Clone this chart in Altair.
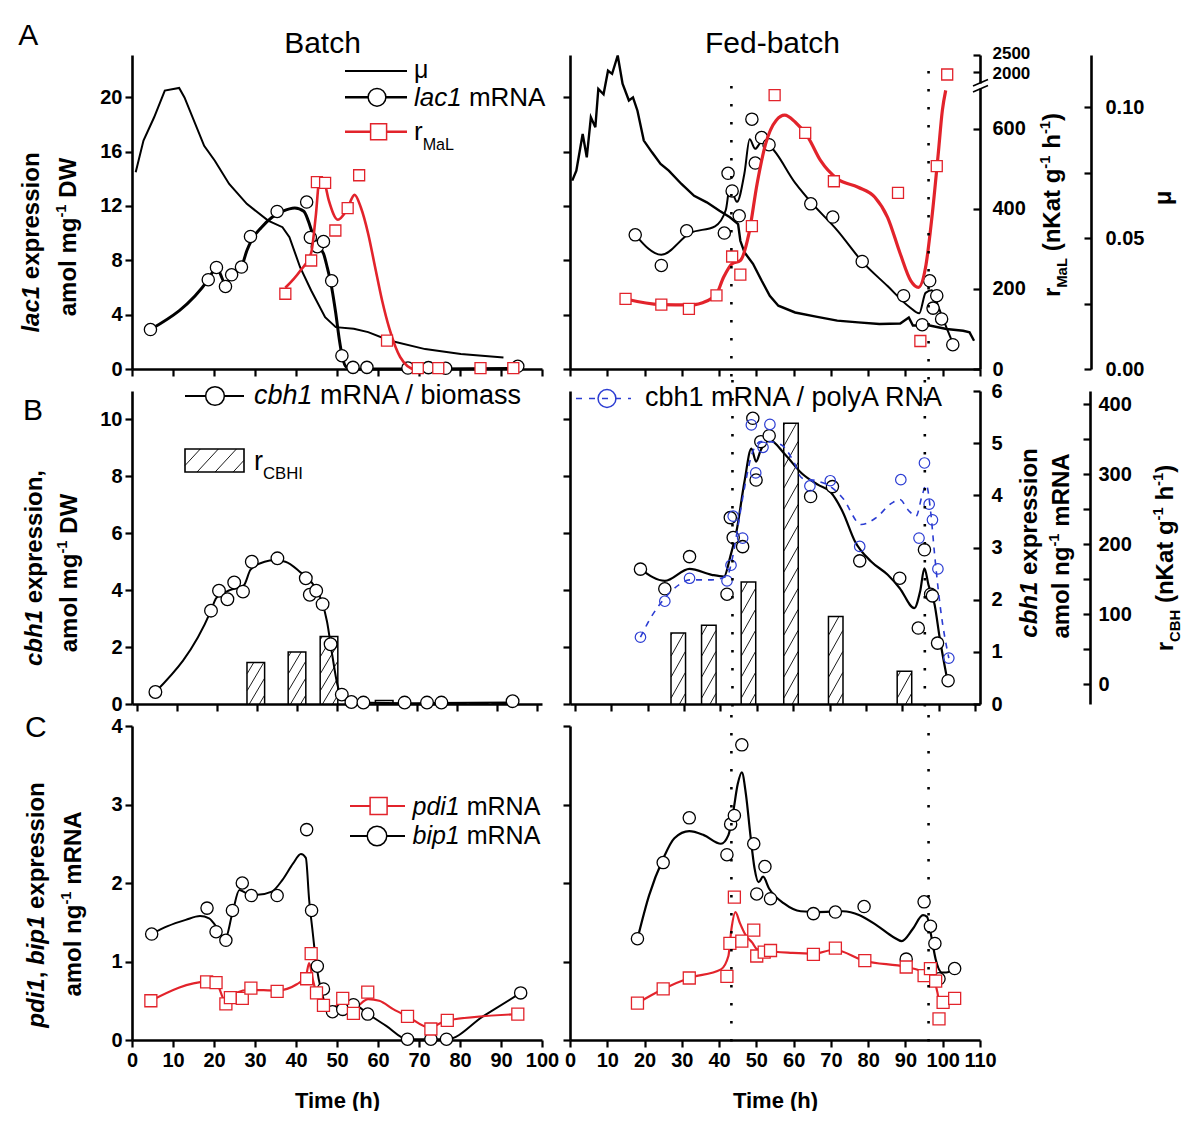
import altair as alt
import pandas as pd

FONT = "Liberation Sans"
RED = "#e2232b"
BLUE = "#2b3cd2"

# ===================== DATA =====================
# ---- A, Batch: lac1 mRNA (amol/mg DW), mu (1/h), r_MaL (nKat/g/h)
A_B_LAC_T = [4.5, 18.6, 20.6, 22.8, 24.3, 26.7, 28.9, 35.4, 42.6, 43.5, 45.2, 46.7, 48.7, 51.2, 53.9, 57.3, 67.3, 72.3, 76.5, 94.1]
A_B_LAC_V = [2.9, 6.57, 7.47, 6.07, 6.93, 7.5, 9.75, 11.59, 12.28, 9.68, 9.0, 9.38, 6.49, 0.98, 0.12, 0.12, 0.07, 0.1, 0.05, 0.2]
A_B_LACFIT_T = [4.5, 18.6, 20.6, 22.8, 24.5, 26.7, 28.0, 29.3, 31.5, 34.1, 36.7, 39.7, 41.9, 43.0, 44.1, 45.4, 46.7, 47.6, 48.7, 49.7, 50.6, 51.3, 52.2, 54.1, 70.0, 94.1]
A_B_LACFIT_V = [2.9, 6.57, 7.47, 6.3, 6.9, 7.5, 8.7, 9.55, 10.4, 11.15, 11.6, 11.85, 11.6, 10.9, 9.9, 9.0, 8.5, 7.5, 6.0, 4.1, 2.1, 0.9, 0.17, 0.0, 0.0, 0.05]
A_B_MU_T = [0.9, 2.8, 5.4, 8.0, 11.5, 12.8, 17.6, 20.2, 23.7, 28.0, 33.2, 36.7, 38.4, 41.0, 43.7, 47.1, 49.7, 54.1, 57.6, 62.8, 71.5, 80.2, 90.6]
A_B_MU_V = [0.0752, 0.0873, 0.0962, 0.1064, 0.1074, 0.1038, 0.0853, 0.0796, 0.0707, 0.0631, 0.0567, 0.0542, 0.0504, 0.0389, 0.030, 0.0198, 0.016, 0.0154, 0.0141, 0.0109, 0.0076, 0.0057, 0.0044]
A_B_R_T = [37.4, 43.7, 45.1, 47.1, 49.6, 52.6, 55.4, 62.2, 69.7, 74.7, 85.0, 93.0]
A_B_R_V = [188, 271, 467, 465, 346, 402, 484, 71, 2, 2, 2, 2]
A_B_RFIT_T = [37.4, 41.0, 43.7, 44.8, 45.8, 46.8, 48.0, 50.2, 52.3, 54.3, 55.8, 57.6, 59.3, 61.0, 62.8, 65.4, 68.9, 70.5]
A_B_RFIT_V = [203, 245, 290, 380, 478, 470, 421, 373, 396, 435, 404, 338, 254, 171, 100, 30, 0, 0]

# ---- A, Fed-batch
A_F_LAC_T = [17.5, 24.5, 31.3, 41.4, 42.4, 43.5, 45.4, 48.8, 49.7, 51.4, 53.4, 64.6, 70.5, 78.4, 89.5, 94.5, 96.5, 97.4, 98.4, 99.7, 102.7]
A_F_LAC_V = [9.87, 7.62, 10.17, 10.0, 14.4, 13.1, 11.27, 18.38, 15.15, 17.03, 16.5, 12.15, 11.18, 7.91, 5.39, 3.26, 6.49, 4.48, 5.39, 3.68, 1.79]
A_F_LACFIT_T = [17.5, 24.5, 32.2, 38.9, 41.8, 42.9, 44.8, 46.8, 48.2, 49.7, 51.4, 53.6, 60.4, 64.9, 71.7, 78.4, 85.2, 90.9, 93.7, 95.4, 97.1, 98.8, 100.5, 102.7]
A_F_LACFIT_V = [9.87, 8.4, 10.0, 10.5, 11.7, 13.4, 12.3, 14.4, 16.9, 16.2, 16.7, 16.4, 13.7, 12.2, 10.2, 7.9, 6.1, 4.6, 4.1, 5.6, 5.8, 4.6, 3.4, 1.9]
A_F_MU_T = [0.6, 1.7, 3.4, 4.5, 5.6, 6.8, 7.6, 9.0, 10.2, 11.3, 12.8, 14.1, 15.8, 16.9, 18.1, 19.8, 22.0, 24.3, 26.5, 29.9, 33.3, 36.7, 40.1, 42.9, 45.1, 45.7, 46.8, 49.1, 51.4, 53.6, 55.9, 60.4, 66.0, 71.7, 77.3, 83.0, 88.6, 90.9, 92.0, 96.5, 101.0, 105.5, 107.2, 108.4]
A_F_MU_V = [0.072, 0.0758, 0.0898, 0.0809, 0.0962, 0.0924, 0.107, 0.105, 0.114, 0.1128, 0.1198, 0.109, 0.1026, 0.1038, 0.0987, 0.0873, 0.0828, 0.0784, 0.0758, 0.0707, 0.0662, 0.0637, 0.0605, 0.058, 0.0554, 0.049, 0.0446, 0.0402, 0.0338, 0.028, 0.0242, 0.0216, 0.020, 0.0185, 0.0178, 0.0172, 0.0174, 0.0197, 0.0166, 0.0166, 0.0153, 0.0146, 0.014, 0.0108]
A_F_R_T = [14.9, 24.5, 31.9, 39.3, 43.5, 45.7, 48.8, 54.9, 63.1, 70.8, 88.0, 94.0, 98.4, 101.2]
A_F_R_V = [175, 161, 150, 184, 281, 236, 357, 684, 590, 469, 440, 70, 507, 1940]
A_F_RFIT_T = [14.9, 24.3, 32.2, 36.7, 39.3, 41.2, 43.5, 45.7, 48.0, 50.2, 52.5, 55.3, 57.6, 60.4, 63.8, 67.2, 71.7, 77.3, 81.8, 85.2, 88.6, 91.4, 93.5, 95.4, 97.1, 98.8, 99.9, 100.8]
A_F_RFIT_V = [175, 161, 160, 170, 187, 229, 263, 271, 338, 463, 563, 621, 634, 617, 580, 521, 475, 454, 429, 379, 288, 221, 204, 254, 379, 538, 646, 696]

# ---- B, Batch: cbh1 mRNA / biomass, r_CBHI bars
B_B_CBH_T = [4.6, 18.5, 20.5, 22.6, 24.3, 26.5, 28.7, 35.1, 42.2, 43.2, 44.8, 46.4, 48.4, 51.2, 53.6, 56.6, 66.9, 72.5, 76.1, 93.9]
B_B_CBH_V = [0.42, 3.28, 3.98, 3.68, 4.27, 3.95, 5.0, 5.12, 4.42, 3.84, 3.98, 3.51, 2.1, 0.33, 0.07, 0.05, 0.05, 0.05, 0.05, 0.1]
B_B_CBHFIT_T = [4.6, 18.5, 19.8, 23.2, 26.7, 28.4, 31.9, 34.5, 37.1, 40.6, 44.1, 46.2, 47.5, 48.8, 50.1, 51.4, 53.6, 70.0, 93.9]
B_B_CBHFIT_V = [0.42, 3.28, 3.72, 4.0, 4.17, 4.72, 5.0, 5.05, 5.0, 4.66, 4.19, 3.6, 2.9, 1.73, 0.68, 0.21, 0.05, 0.03, 0.05]
B_B_BAR_T = [29.7, 40.0, 48.0, 61.8, 80.0, 85.5, 91.0]
B_B_BAR_V = [1.46, 1.83, 2.37, 0.12, 0.04, 0.04, 0.04]

# ---- B, Fed-batch
B_F_BAR_T = [28.4, 36.8, 47.7, 59.4, 71.7, 90.6]
B_F_BAR_V = [73.3, 84.3, 146, 373, 97, 18.6]
B_F_CBH_T = [18.0, 24.7, 31.5, 41.8, 42.7, 43.5, 46.1, 48.9, 49.8, 51.1, 53.4, 64.8, 70.8, 78.3, 89.3, 94.4, 96.1, 97.8, 98.3, 99.7, 102.6]
B_F_CBH_V = [4.74, 4.05, 5.18, 3.86, 6.55, 5.85, 5.53, 10.04, 7.87, 9.22, 9.43, 7.29, 7.64, 5.03, 4.42, 2.67, 5.42, 3.86, 3.8, 2.14, 0.82]
B_F_CBHFIT_T = [18.0, 24.7, 31.5, 37.6, 41.0, 42.7, 44.4, 46.6, 48.5, 49.8, 51.1, 53.4, 57.9, 62.4, 66.9, 70.2, 73.6, 77.0, 81.5, 86.0, 89.3, 93.3, 94.9, 96.1, 97.2, 98.9, 100.3, 102.2]
B_F_CBHFIT_V = [4.74, 4.33, 4.75, 4.54, 4.48, 5.18, 6.06, 7.81, 8.98, 8.52, 8.93, 9.28, 8.75, 8.1, 7.7, 7.46, 6.76, 5.71, 5.0, 4.54, 4.07, 3.37, 3.95, 4.77, 4.19, 3.49, 2.32, 0.97]
B_F_PA_T = [18.0, 24.7, 31.5, 41.8, 42.9, 43.5, 46.1, 48.5, 49.7, 51.7, 53.6, 64.6, 70.2, 78.3, 89.6, 94.6, 96.1, 97.4, 98.3, 99.8, 102.8]
B_F_PA_V = [1.28, 1.97, 2.41, 2.36, 2.66, 3.6, 3.18, 5.35, 4.43, 4.92, 5.36, 4.18, 4.28, 3.02, 4.3, 3.18, 4.62, 3.83, 3.53, 2.59, 0.88]
B_F_PAFIT_T = [18.0, 20.8, 24.7, 28.7, 31.5, 37.6, 41.8, 43.3, 44.9, 46.6, 48.9, 51.1, 53.4, 56.7, 60.1, 62.4, 66.9, 70.2, 73.6, 78.7, 82.6, 87.1, 89.3, 91.6, 93.8, 95.5, 96.6, 97.8, 98.9, 100.6, 102.8]
B_F_PAFIT_V = [1.28, 1.65, 2.03, 2.29, 2.38, 2.38, 2.45, 2.8, 3.44, 4.14, 4.84, 5.03, 5.03, 4.97, 4.65, 4.33, 4.27, 4.17, 3.95, 3.44, 3.56, 3.85, 3.92, 3.72, 3.6, 4.01, 4.2, 3.69, 2.86, 1.78, 0.88]

# ---- C, Batch: bip1 and pdi1 mRNA
C_B_BIP_T = [4.8, 18.3, 20.5, 22.9, 24.5, 26.9, 29.1, 35.4, 42.6, 43.8, 45.2, 46.7, 48.9, 51.4, 54.0, 57.5, 67.2, 72.9, 76.7, 94.8]
C_B_BIP_V = [1.35, 1.68, 1.38, 1.27, 1.65, 2.0, 1.84, 1.84, 2.68, 1.65, 0.94, 0.65, 0.36, 0.39, 0.45, 0.33, 0.01, 0.01, 0.01, 0.6]
C_B_BIPFIT_T = [4.8, 8.7, 13.1, 16.6, 18.8, 21.0, 22.7, 24.5, 26.2, 27.9, 30.6, 34.1, 36.7, 39.3, 41.2, 42.4, 43.2, 44.1, 45.0, 46.3, 48.0, 49.8, 51.5, 54.1, 57.6, 62.0, 67.2, 72.9, 76.9, 85.6, 94.8]
C_B_BIPFIT_V = [1.35, 1.45, 1.53, 1.58, 1.55, 1.41, 1.28, 1.62, 1.91, 1.87, 1.85, 1.89, 2.04, 2.25, 2.37, 2.32, 1.79, 1.36, 0.94, 0.6, 0.39, 0.35, 0.39, 0.45, 0.33, 0.18, 0.01, 0.01, 0.01, 0.3, 0.6]
C_B_PDI_T = [4.6, 18.2, 20.5, 22.9, 24.0, 26.9, 29.0, 35.4, 42.6, 43.7, 45.0, 46.7, 51.4, 54.0, 57.5, 67.2, 72.9, 76.9, 94.1]
C_B_PDI_V = [0.5, 0.74, 0.73, 0.46, 0.54, 0.53, 0.66, 0.62, 0.78, 1.1, 0.6, 0.44, 0.53, 0.34, 0.61, 0.3, 0.14, 0.25, 0.33]
C_B_PDIFIT_T = [4.6, 18.2, 20.5, 22.7, 25.3, 28.8, 35.4, 40.2, 42.4, 43.2, 44.1, 45.4, 46.7, 51.5, 54.1, 57.6, 60.3, 63.8, 67.2, 72.5, 76.9, 94.3]
C_B_PDIFIT_V = [0.5, 0.74, 0.73, 0.5, 0.6, 0.64, 0.63, 0.71, 0.81, 0.98, 0.77, 0.52, 0.39, 0.45, 0.41, 0.52, 0.5, 0.39, 0.3, 0.16, 0.25, 0.33]

# ---- C, Fed-batch
C_F_BIP_T = [18.1, 25.0, 32.0, 42.1, 43.1, 44.1, 46.1, 49.3, 50.1, 52.3, 53.8, 65.3, 71.2, 78.9, 90.2, 95.0, 96.7, 97.9, 99.0, 103.2]
C_F_BIP_V = [1.29, 2.26, 2.83, 2.36, 2.75, 2.86, 3.76, 2.5, 1.86, 2.21, 1.8, 1.61, 1.63, 1.7, 1.03, 1.76, 1.45, 1.23, 0.78, 0.91]
C_F_BIPFIT_T = [18.1, 21.2, 25.0, 28.0, 32.0, 35.9, 40.5, 42.5, 43.8, 45.0, 46.1, 47.2, 48.4, 49.5, 50.6, 51.8, 53.4, 57.4, 61.9, 66.4, 73.2, 77.7, 82.3, 86.8, 89.0, 91.9, 94.7, 95.8, 96.9, 98.1, 99.8, 100.9, 103.2]
C_F_BIPFIT_V = [1.29, 1.84, 2.31, 2.57, 2.66, 2.61, 2.5, 2.61, 2.91, 3.26, 3.41, 3.13, 2.61, 2.19, 2.01, 2.08, 1.93, 1.74, 1.64, 1.63, 1.64, 1.59, 1.46, 1.31, 1.26, 1.41, 1.59, 1.57, 1.33, 1.03, 0.86, 0.86, 0.91]
C_F_PDI_T = [18.1, 25.0, 32.0, 42.1, 42.9, 44.1, 46.1, 49.3, 50.1, 52.1, 53.8, 65.3, 71.2, 79.1, 90.2, 95.0, 96.7, 98.1, 99.0, 100.1, 103.2]
C_F_PDI_V = [0.47, 0.65, 0.79, 0.81, 1.23, 1.82, 1.26, 1.4, 1.07, 1.12, 1.14, 1.09, 1.17, 1.01, 0.93, 0.82, 0.91, 0.75, 0.27, 0.48, 0.53]
C_F_PDIFIT_T = [18.1, 25.0, 32.0, 40.5, 42.5, 43.3, 44.4, 45.5, 47.2, 48.9, 50.1, 52.3, 59.7, 65.3, 70.9, 78.9, 90.2, 95.3, 96.9, 98.6, 99.2]
C_F_PDIFIT_V = [0.47, 0.65, 0.79, 0.9, 1.07, 1.41, 1.63, 1.5, 1.33, 1.24, 1.16, 1.14, 1.11, 1.10, 1.15, 1.01, 0.93, 0.86, 0.82, 0.6, 0.41]

# feed start / end times (dotted lines)
FEED_T = [43.3, 96.2]

# axis ticks
X_TICKS_B = list(range(0, 101, 10))
X_TICKS_F = list(range(0, 111, 10))
LAC_TICKS = [0, 4, 8, 12, 16, 20]
RMAL_TICKS_LOW = [0, 200, 400, 600]
RMAL_TICKS_HIGH = [2000, 2500]
MU_TICKS = [0, 0.05, 0.10]
MU_MINOR = [0.025, 0.075]
CBH_TICKS = [0, 2, 4, 6, 8, 10]
PA_TICKS = [0, 1, 2, 3, 4, 5, 6]
RCBH_TICKS = [0, 100, 200, 300, 400]
RCBH_MINOR = [50, 150, 250, 350]
C_TICKS = [0, 1, 2, 3, 4]

# ===================== GEOMETRY / SCALES =====================
WL, WR = 410, 410
HA, HB, HC = 314, 313, 314
XB_DOM, XF_DOM = [0, 100], [0, 110]
LAC_DOM = [0, 23.1]
MU_DOM = [0, 0.12]
RMAL_DOM = [0, 707, 1695, 2500]
RMAL_RNG = [HA, 31, 28, 0]
CBH_DOM = [0, 11]
PA_DOM = [0, 6]
RCBH_DOM = [-28.1, 419]
C_DOM = [0, 4]

ONE = pd.DataFrame({"k": [0]})

REG = {' ': 278, '(': 333, ')': 333, ',': 278, '-': 333, '.': 278, '/': 278, 'μ': 576,
       'A': 667, 'B': 667, 'C': 722, 'D': 722, 'E': 667, 'H': 722, 'I': 278, 'K': 667, 'L': 556, 'M': 833, 'N': 722, 'R': 722, 'W': 944,
       'a': 556, 'b': 556, 'c': 500, 'd': 556, 'e': 556, 'g': 556, 'h': 556, 'i': 222, 'l': 222, 'm': 833, 'n': 556,
       'o': 556, 'p': 556, 'r': 333, 's': 500, 't': 278, 'x': 500, 'y': 500}
BOLD = {' ': 278, '(': 333, ')': 333, ',': 278, '-': 333, '.': 278, '/': 278, 'μ': 611,
        'A': 722, 'B': 722, 'C': 722, 'D': 722, 'E': 667, 'H': 722, 'I': 278, 'K': 722, 'L': 611, 'M': 833, 'N': 722, 'R': 722, 'W': 944,
        'a': 556, 'b': 611, 'c': 556, 'd': 611, 'e': 556, 'g': 611, 'h': 611, 'i': 278, 'l': 278, 'm': 889, 'n': 611,
        'o': 611, 'p': 611, 'r': 389, 's': 556, 't': 333, 'x': 556, 'y': 556}


def tw(s, size, bold):
    tab = BOLD if bold else REG
    return sum(tab.get(c, 556) for c in s) * size / 1000.0


def tmark(text, x, y, size, bold=False, ital=False, angle=0, align="left", color="black"):
    kw = dict(text=text, font=FONT, fontSize=size, fontWeight="bold" if bold else "normal",
              fontStyle="italic" if ital else "normal", align=align, baseline="alphabetic", color=color)
    if angle:
        kw["angle"] = angle
    return alt.Chart(ONE).mark_text(**kw).encode(x=alt.value(x), y=alt.value(y))


def rich(segs, x, y, size, angle=0, center=False, sub_shift=0.36):
    """segs: (text, style) with style letters b=bold i=italic, plus ' sub' / ' sup'."""
    parsed = []
    for s, st in segs:
        f = st.split()
        base = f[0] if f and f[0] not in ("sub", "sup") else ""
        pos = "sub" if "sub" in f else ("sup" if "sup" in f else "")
        bold, ital = "b" in base, "i" in base
        fs = size * 0.62 if pos else size
        parsed.append((s, bold, ital, pos, fs, tw(s, fs, bold)))
    total = sum(p[5] for p in parsed)
    adv = -total / 2 if center else 0.0
    out = []
    for s, bold, ital, pos, fs, w in parsed:
        lead = len(s) - len(s.lstrip(" "))
        core = s.strip(" ")
        p = adv + tw(" " * lead, fs, bold)
        shift = sub_shift * size if pos == "sub" else (-0.40 * size if pos == "sup" else 0.0)
        if angle == 270:
            px, py = x + shift, y - p
        else:
            px, py = x + p, y + shift
        if core:
            out.append(tmark(core, px, py, fs, bold, ital, angle))
        adv += w
    return out


class Pan:
    def __init__(self, xdom, ticks, w, h, labels, title):
        self.xdom, self.ticks, self.w, self.h, self.labels, self.title = xdom, ticks, w, h, labels, title
        self.pxh = w / float(xdom[1] - xdom[0])

    def X(self, field="t"):
        ax = dict(values=self.ticks, labels=self.labels, grid=False, title=None)
        if self.labels:
            ax.update(format="d", labelOverlap=False, labelFlush=False, labelPadding=3)
        if self.title:
            ax.update(title=self.title, titleFontSize=22, titleFontWeight="bold", titleFont=FONT,
                      titleColor="black", titlePadding=20)
        return alt.X(field + ":Q", scale=alt.Scale(domain=self.xdom, nice=False, zero=False), axis=alt.Axis(**ax))


def yax(orient, values, labels=True, offset=0, fmt="d", domain=True):
    kw = dict(orient=orient, values=values, labels=labels, title=None, grid=False, offset=offset,
              domain=domain, labelOverlap=False, labelPadding=3)
    if labels:
        kw["format"] = fmt
    return alt.Axis(**kw)


def rlab(values, pad, offset=0, fmt="d", size=20, loff=0):
    """right-hand label-only axis (ticks are drawn inward by a separate axis)"""
    return alt.Axis(orient="right", values=values, offset=offset, ticks=False, tickSize=0, domain=False,
                    labelPadding=pad, format=fmt, title=None, grid=False, labelOverlap=False,
                    labelFontSize=size, labelOffset=loff)


def Y(field, dom, axis=None, rng=None):
    if rng is None:
        sc = alt.Scale(domain=dom, nice=False, zero=False)
    else:
        sc = alt.Scale(domain=dom, range=rng, nice=False, zero=False)
    return alt.Y(field + ":Q", scale=sc, axis=axis)


def curve(P, t, v, dom, color, width, axis=None, rng=None, dash=None, interp="monotone"):
    d = pd.DataFrame({"t": t, "v": v})
    kw = dict(color=color, strokeWidth=width, interpolate=interp)
    if dash:
        kw["strokeDash"] = dash
    return alt.Chart(d).mark_line(**kw).encode(x=P.X(), y=Y("v", dom, axis, rng))


def marks(P, t, v, dom, shape, color, size, filled=True, sw=1.3, rng=None):
    d = pd.DataFrame({"t": t, "v": v})
    if filled:
        m = alt.Chart(d).mark_point(shape=shape, filled=True, fill="white", stroke=color,
                                    strokeWidth=sw, size=size, opacity=1)
    else:
        m = alt.Chart(d).mark_point(shape=shape, filled=False, color=color, strokeWidth=sw, size=size, opacity=1)
    return m.encode(x=P.X(), y=Y("v", dom, None, rng))


def ghost_axis(P, dom, axis, rng=None):
    d = pd.DataFrame({"t": [P.xdom[0]], "v": [dom[0]]})
    return alt.Chart(d).mark_point(opacity=0).encode(x=P.X(), y=Y("v", dom, axis, rng))


def rtick(P, dom, values, extra, rng=None):
    """axis line + inward-pointing ticks placed on the right side"""
    ax = alt.Axis(orient="left", offset=-(P.w + extra), values=values, labels=False, title=None,
                  grid=False, domain=True)
    return ghost_axis(P, dom, ax, rng)


def vlines(P, ts, y0, y1):
    d = pd.DataFrame({"t": ts})
    return alt.Chart(d).mark_rule(color="black", strokeWidth=2.6, strokeDash=[2.6, 15.4], strokeCap="butt").encode(
        x=P.X(), y=alt.value(y0), y2=alt.value(y1))


def bars(P, t, v, dom, width_h, axis=None):
    d = pd.DataFrame({"t": t, "v": v, "b": [dom[0]] * len(t)})
    return alt.Chart(d).mark_bar(size=width_h * P.pxh, fill="white", stroke="black", strokeWidth=1.5).encode(
        x=P.X(), y=Y("v", dom, axis), y2="b:Q")


def hatch(P, t, v, dom, width_h, h_px, slope, spacing):
    pxu = h_px / float(dom[1] - dom[0])
    rows = []
    for tc, top in zip(t, v):
        w = width_h * P.pxh
        h = (top - dom[0]) * pxu
        if h <= 4:
            continue
        c = -slope * w + spacing * 0.5
        while c < h:
            a = max(0.0, -c / slope)
            b = min(w, (h - c) / slope)
            if b - a > 0.5:
                rows.append(dict(t=tc - width_h / 2 + a / P.pxh, v=dom[0] + (slope * a + c) / pxu,
                                 t2=tc - width_h / 2 + b / P.pxh, v2=dom[0] + (slope * b + c) / pxu))
            c += spacing
    d = pd.DataFrame(rows)
    return alt.Chart(d).mark_rule(color="black", strokeWidth=0.9).encode(
        x=P.X(), y=Y("v", dom), x2="t2:Q", y2="v2:Q")


def prule(x0, y0, x1, y1, color="black", width=1.0, dash=None):
    kw = dict(color=color, strokeWidth=width)
    if dash:
        kw["strokeDash"] = dash
    return alt.Chart(ONE).mark_rule(**kw).encode(x=alt.value(x0), y=alt.value(y0), x2=alt.value(x1), y2=alt.value(y1))


def ppoint(x, y, shape, color, size, filled=True, sw=1.5):
    if filled:
        m = alt.Chart(ONE).mark_point(shape=shape, filled=True, fill="white", stroke=color, strokeWidth=sw, size=size, opacity=1)
    else:
        m = alt.Chart(ONE).mark_point(shape=shape, filled=False, color=color, strokeWidth=sw, size=size, opacity=1)
    return m.encode(x=alt.value(x), y=alt.value(y))


def phatch(x0, y0, x1, y1, slope, spacing):
    out = []
    w, h = x1 - x0, y1 - y0
    c = -slope * w + spacing * 0.6
    while c < h:
        a = max(0.0, -c / slope)
        b = min(w, (h - c) / slope)
        if b - a > 0.5:
            out.append(prule(x0 + a, y1 - (slope * a + c), x0 + b, y1 - (slope * b + c), width=0.9))
        c += spacing
    return out


def panel(layers, w, h):
    return alt.layer(*layers).properties(width=w, height=h).resolve_scale(y="independent").resolve_axis(y="independent")


# ===================== ROW A =====================
P = Pan(XB_DOM, X_TICKS_B, WL, HA, False, None)
L = [
    alt.Chart(ONE).mark_rule(strokeOpacity=0, opacity=0).encode(
        x=alt.value(-124), x2=alt.value(-123), y=alt.value(-47), y2=alt.value(-46)),
    curve(P, A_B_MU_T, A_B_MU_V, MU_DOM, "black", 2.0, interp="linear"),
    curve(P, A_B_LACFIT_T, A_B_LACFIT_V, LAC_DOM, "black", 3.0, axis=yax("left", LAC_TICKS)),
    marks(P, A_B_LAC_T, A_B_LAC_V, LAC_DOM, "circle", "black", 150),
    curve(P, A_B_RFIT_T, A_B_RFIT_V, RMAL_DOM, RED, 2.6, rng=RMAL_RNG),
    marks(P, A_B_R_T, A_B_R_V, RMAL_DOM, "square", RED, 121, rng=RMAL_RNG),
    # legend
    prule(213, 16, 275, 16, width=2.0),
    prule(213, 42.3, 275, 42.3, width=2.5),
    ppoint(245, 42.3, "circle", "black", 314),
    prule(213, 76.7, 275, 76.7, color=RED, width=2.5),
    ppoint(246.6, 76.7, "square", RED, 256),
    tmark("A", -113.7, -10, 30),
    tmark("Batch", 190.5, -2, 30, align="center"),
]
L += rich([("μ", "r")], 282, 23, 25)
L += rich([("lac1", "i"), (" mRNA", "r")], 282, 51, 26)
L += rich([("r", "r"), ("MaL", "r sub")], 282, 85, 26, sub_shift=0.38)
L += rich([("lac1", "bi"), (" expression", "b")], -93.5, 187.5, 24, angle=270, center=True)
L += rich([("amol mg", "b"), ("-1", "b sup"), (" DW", "b")], -56, 182, 24, angle=270, center=True)
rowA_left = panel(L, WL, HA)

P = Pan(XF_DOM, X_TICKS_F, WR, HA, False, None)
L = [
    curve(P, A_F_MU_T, A_F_MU_V, MU_DOM, "black", 2.4, interp="linear",
          axis=rlab(MU_TICKS, 14, offset=111, fmt=".2f")),
    rtick(P, MU_DOM, MU_TICKS + MU_MINOR, 111),
    curve(P, A_F_LACFIT_T, A_F_LACFIT_V, LAC_DOM, "black", 2.0, axis=yax("left", LAC_TICKS, labels=False)),
    marks(P, A_F_LAC_T, A_F_LAC_V, LAC_DOM, "circle", "black", 150),
    curve(P, A_F_RFIT_T, A_F_RFIT_V, RMAL_DOM, RED, 3.2, rng=RMAL_RNG, axis=rlab(RMAL_TICKS_LOW, 12)),
    ghost_axis(P, RMAL_DOM, rlab(RMAL_TICKS_HIGH[1:], 12, size=17, loff=-2), rng=RMAL_RNG),
    ghost_axis(P, RMAL_DOM, rlab(RMAL_TICKS_HIGH[:1], 12, size=17, loff=1), rng=RMAL_RNG),
    rtick(P, RMAL_DOM, RMAL_TICKS_LOW + RMAL_TICKS_HIGH, 0, rng=RMAL_RNG),
    marks(P, A_F_R_T, A_F_R_V, RMAL_DOM, "square", RED, 121, rng=RMAL_RNG),
    vlines(P, FEED_T[:1], 31, HA + 11),
    vlines(P, FEED_T[1:], 16, HA + 11),
    # axis break
    alt.Chart(ONE).mark_rect(color="white").encode(x=alt.value(405), x2=alt.value(416), y=alt.value(28.5), y2=alt.value(33.5)),
    prule(403, 31, 418, 24.5, width=1.6),
    prule(403, 37, 418, 30.5, width=1.6),
    tmark("Fed-batch", 202.5, -2, 30, align="center"),
]
L += rich([("r", "b"), ("MaL", "b sub"), (" (nKat g", "b"), ("-1", "b sup"), (" h", "b"), ("-1", "b sup"), (")", "b")],
          490, 150, 24, angle=270, center=True, sub_shift=0.3)
L += rich([("μ", "b")], 601, 143, 24, angle=270, center=True)
rowA_right = panel(L, WR, HA)

# ===================== ROW B =====================
P = Pan(XB_DOM, X_TICKS_B, WL, HB, False, None)
L = [
    bars(P, B_B_BAR_T, B_B_BAR_V, CBH_DOM, 4.3),
    hatch(P, B_B_BAR_T, B_B_BAR_V, CBH_DOM, 4.3, HB, 1.65, 17),
    curve(P, B_B_CBHFIT_T, B_B_CBHFIT_V, CBH_DOM, "black", 2.0, axis=yax("left", CBH_TICKS)),
    marks(P, B_B_CBH_T, B_B_CBH_V, CBH_DOM, "circle", "black", 160),
    # legend
    prule(53, 5, 112, 5, width=2.0),
    ppoint(83, 5, "circle", "black", 350),
    alt.Chart(ONE).mark_rect(fill="white", stroke="black", strokeWidth=1.6).encode(
        x=alt.value(53), x2=alt.value(112), y=alt.value(58), y2=alt.value(81)),
    tmark("B", -109, 29, 30),
]
L += phatch(53, 58, 112, 81, 1.08, 19.5)
L += rich([("cbh1", "i"), (" mRNA / biomass", "r")], 122, 13, 27)
L += rich([("r", "r"), ("CBHI", "r sub")], 122, 79, 27, sub_shift=0.33)
L += rich([("cbh1", "bi"), (" expression,", "b")], -90, 177, 24, angle=270, center=True)
L += rich([("amol mg", "b"), ("-1", "b sup"), (" DW", "b")], -55, 182, 24, angle=270, center=True)
rowB_left = panel(L, WL, HB)

P = Pan(XF_DOM, X_TICKS_F, WR, HB, False, None)
L = [
    bars(P, B_F_BAR_T, B_F_BAR_V, RCBH_DOM, 3.9, axis=rlab(RCBH_TICKS, 8, offset=110)),
    rtick(P, RCBH_DOM, RCBH_TICKS + RCBH_MINOR, 110),
    hatch(P, B_F_BAR_T, B_F_BAR_V, RCBH_DOM, 3.9, HB, 1.75, 21),
    curve(P, B_F_CBHFIT_T, B_F_CBHFIT_V, CBH_DOM, "black", 2.2, axis=yax("left", CBH_TICKS, labels=False)),
    marks(P, B_F_CBH_T, B_F_CBH_V, CBH_DOM, "circle", "black", 150),
    curve(P, B_F_PAFIT_T, B_F_PAFIT_V, PA_DOM, BLUE, 1.6, dash=[6, 6], axis=rlab(PA_TICKS, 11)),
    rtick(P, PA_DOM, PA_TICKS, 0),
    marks(P, B_F_PA_T, B_F_PA_V, PA_DOM, "circle", BLUE, 110, filled=False, sw=1.2),
    vlines(P, FEED_T, -11, HB + 11),
    # legend
    prule(6, 7.5, 61, 7.5, color=BLUE, width=1.6, dash=[6, 7]),
    ppoint(37, 7.5, "circle", BLUE, 320, filled=False, sw=1.5),
]
L += rich([("cbh1 mRNA / polyA RNA", "r")], 75, 15, 27)
L += rich([("cbh1", "bi"), (" expression", "b")], 467, 152, 24, angle=270, center=True)
L += rich([("amol ng", "b"), ("-1", "b sup"), (" mRNA", "b")], 498.5, 155, 24, angle=270, center=True)
L += rich([("r", "b"), ("CBH", "b sub"), (" (nKat g", "b"), ("-1", "b sup"), (" h", "b"), ("-1", "b sup"), (")", "b")],
          603, 167, 24, angle=270, center=True, sub_shift=0.3)
rowB_right = panel(L, WR, HB)

# ===================== ROW C =====================
P = Pan(XB_DOM, X_TICKS_B, WL, HC, True, "Time (h)")
L = [
    curve(P, C_B_BIPFIT_T, C_B_BIPFIT_V, C_DOM, "black", 2.0, axis=yax("left", C_TICKS)),
    curve(P, C_B_PDIFIT_T, C_B_PDIFIT_V, C_DOM, RED, 2.2),
    marks(P, C_B_BIP_T, C_B_BIP_V, C_DOM, "circle", "black", 150),
    marks(P, C_B_PDI_T, C_B_PDI_V, C_DOM, "square", RED, 144),
    # legend
    prule(218, 80, 273, 80, color=RED, width=2.2),
    ppoint(246.6, 80, "square", RED, 289),
    prule(218, 110, 273, 110, width=2.0),
    ppoint(245, 110, "circle", "black", 380),
    tmark("C", -107, 11, 30),
]
L += rich([("pdi1", "i"), (" mRNA", "r")], 280.5, 89, 25)
L += rich([("bip1", "i"), (" mRNA", "r")], 280.5, 118, 25)
L += rich([("pdi1", "bi"), (", ", "b"), ("bip1", "bi"), (" expression", "b")], -88, 179, 24, angle=270, center=True)
L += rich([("amol ng", "b"), ("-1", "b sup"), (" mRNA", "b")], -51, 178, 24, angle=270, center=True)
rowC_left = panel(L, WL, HC)

P = Pan(XF_DOM, X_TICKS_F, WR, HC, True, "Time (h)")
L = [
    curve(P, C_F_BIPFIT_T, C_F_BIPFIT_V, C_DOM, "black", 2.2, axis=yax("left", C_TICKS, labels=False)),
    curve(P, C_F_PDIFIT_T, C_F_PDIFIT_V, C_DOM, RED, 2.2),
    marks(P, C_F_BIP_T, C_F_BIP_V, C_DOM, "circle", "black", 150),
    marks(P, C_F_PDI_T, C_F_PDI_V, C_DOM, "square", RED, 144),
    vlines(P, FEED_T, -11, HC + 2),
]
rowC_right = panel(L, WR, HC)

chart = alt.concat(rowA_left, rowA_right, rowB_left, rowB_right, rowC_left, rowC_right,
                   columns=2, spacing={"row": 22, "column": 28}, bounds="flush", padding=0
                   ).configure_view(stroke=None).configure_axis(
    domainColor="black", domainWidth=2.6, tickColor="black", tickWidth=2.2, tickSize=7,
    labelColor="black", labelFont=FONT, labelFontSize=20, labelFontWeight="bold",
    titleFont=FONT, grid=False)

chart.save("out.html", embed_options={"renderer": "svg", "actions": False})
